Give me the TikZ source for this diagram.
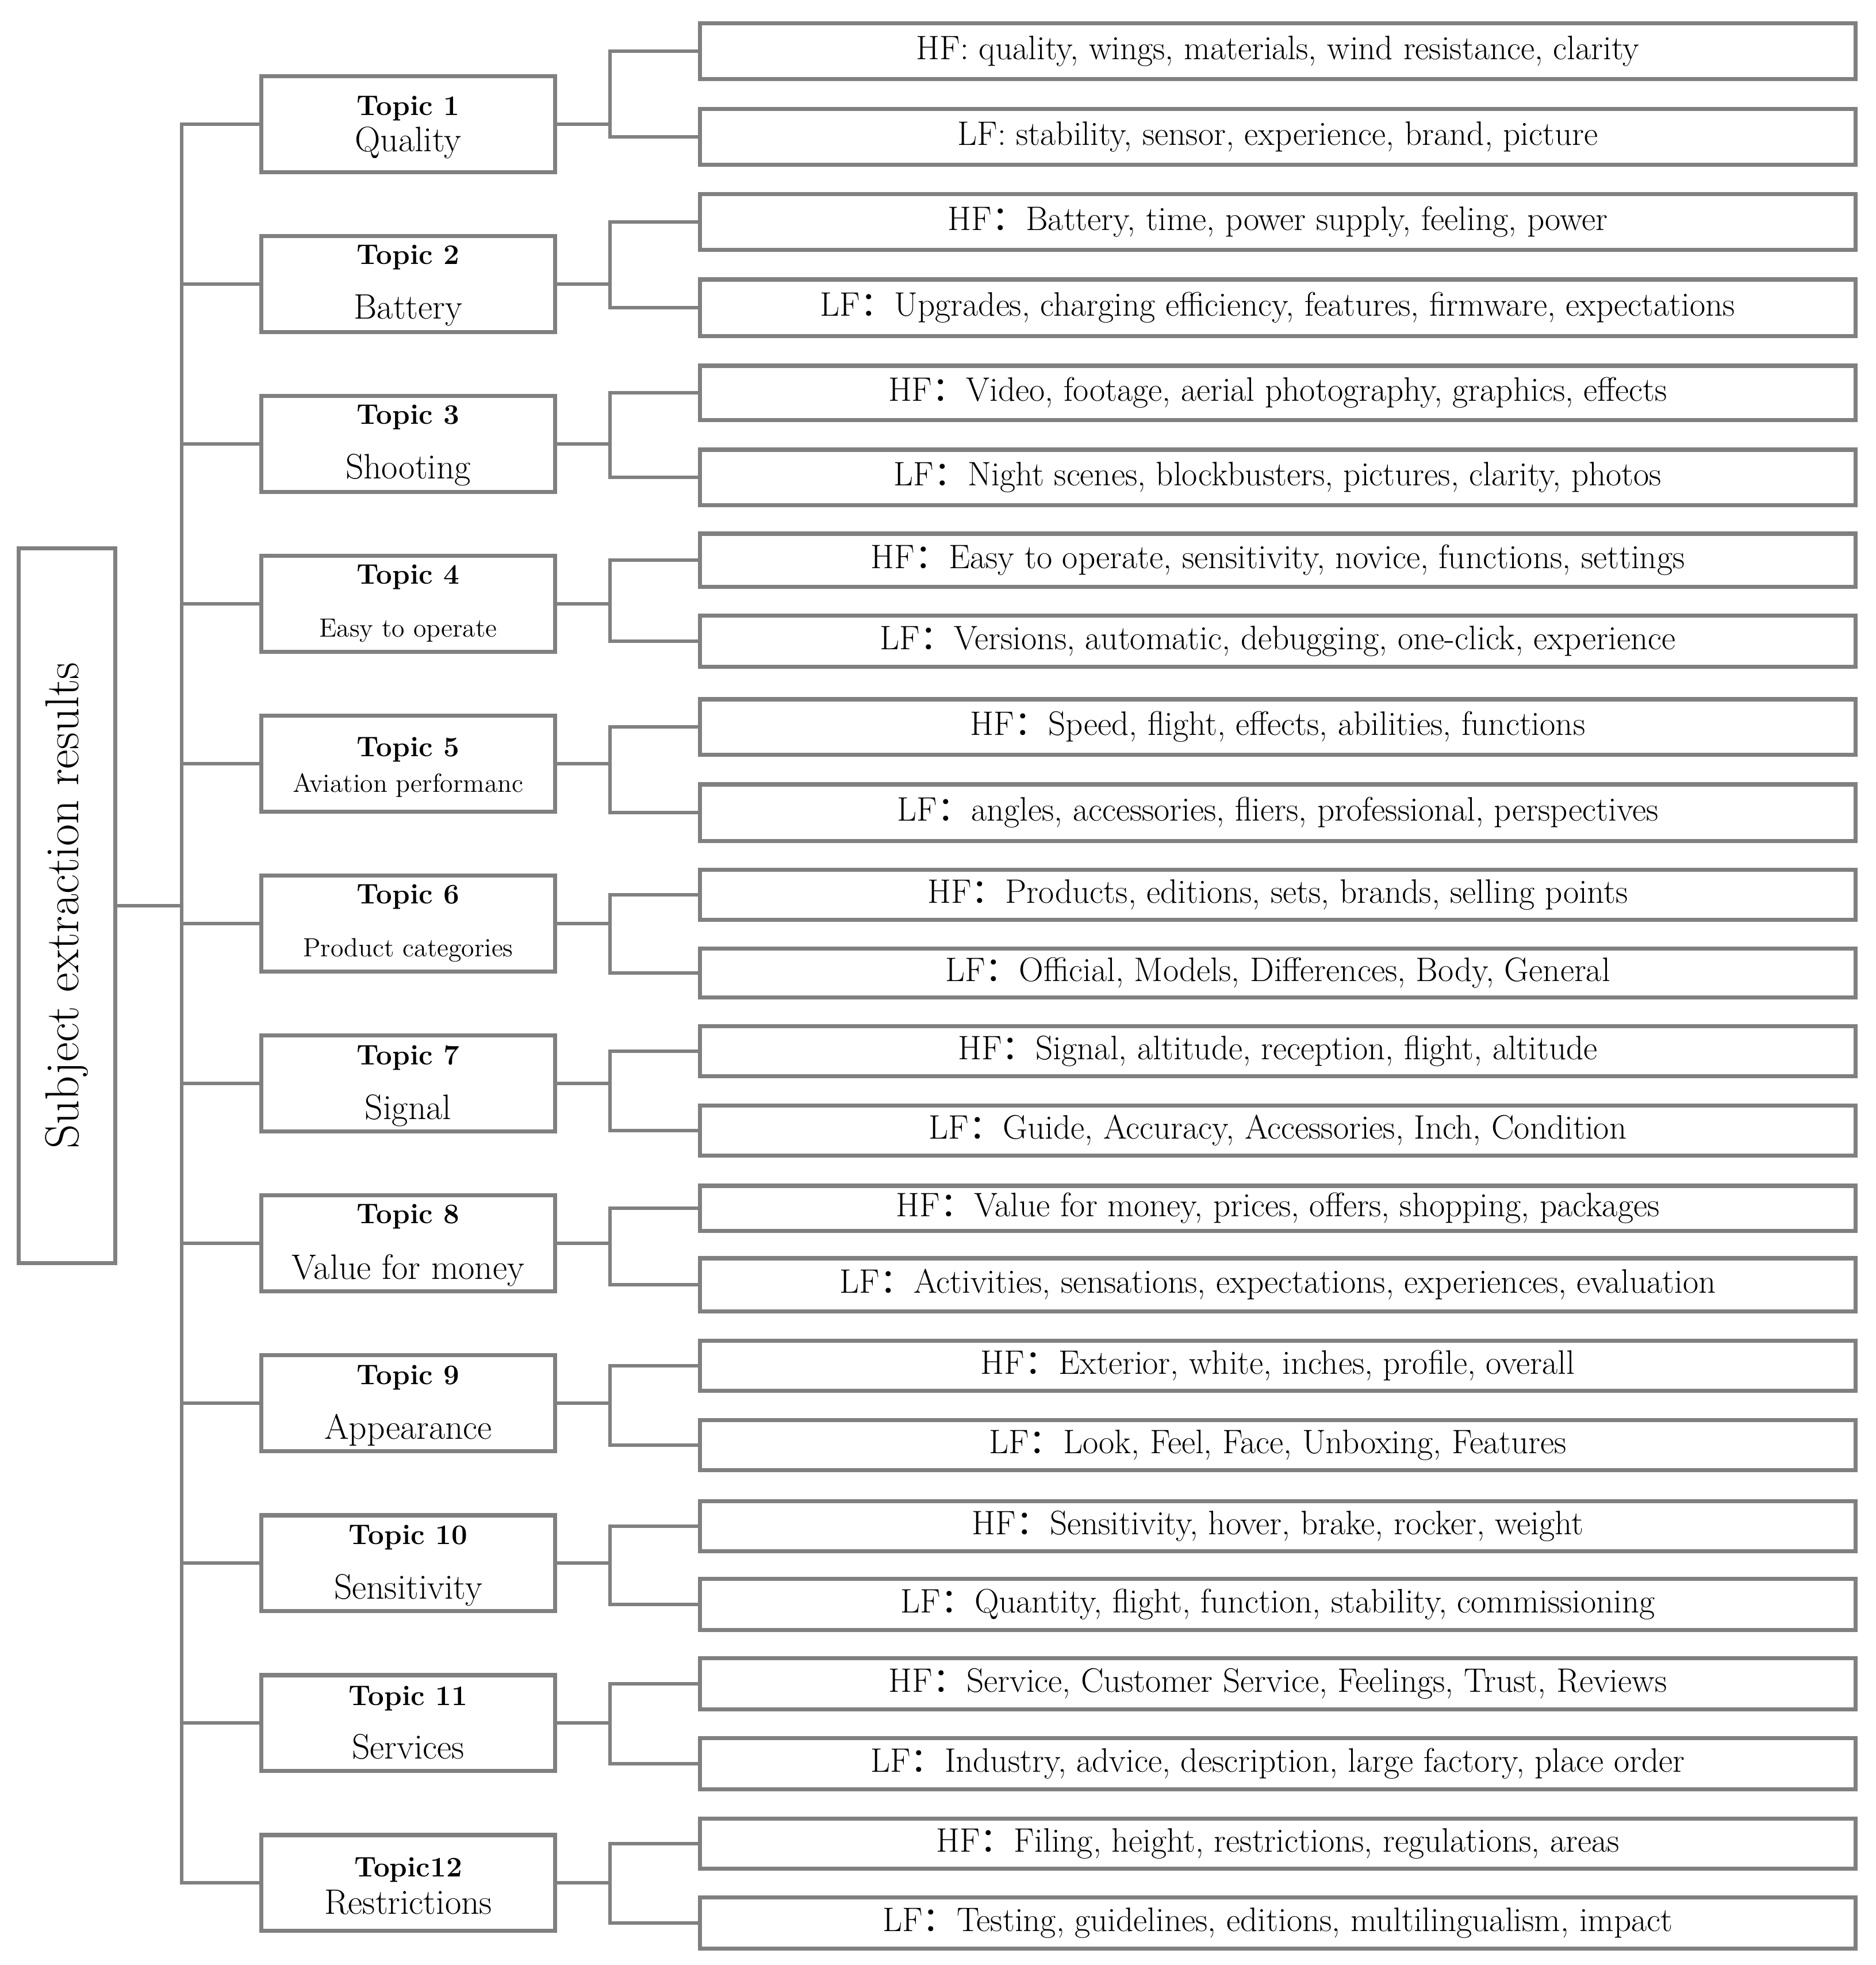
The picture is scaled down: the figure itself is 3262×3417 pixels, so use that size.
\documentclass[tikz,border=0pt]{standalone}
\usepackage{fontspec}
\newfontfamily\cjk{Noto Sans CJK SC}
\definecolor{lineg}{RGB}{128,128,128}
\newcommand{\fc}{{\cjk ：}}
\begin{document}
\begin{tikzpicture}[x=0.01cm,y=-0.01cm,
  box/.style={draw=lineg, line width=2pt, fill=white, inner sep=0pt},
  conn/.style={draw=lineg, line width=1.9pt},
  leafbox/.style={box, minimum width=20.09cm, font=\fontsize{16.8}{19}\selectfont, text height=1.05em, text depth=0.25em},
  topicbox/.style={box, minimum width=5.10cm, minimum height=1.66cm},
  ttitle/.style={font=\fontsize{14}{17}\selectfont\bfseries, anchor=base, inner sep=0pt},
  tsub/.style={font=\fontsize{17.5}{20}\selectfont, anchor=base, inner sep=0pt},
  tsubsmall/.style={font=\fontsize{13}{15}\selectfont, anchor=base, inner sep=0pt},
]
\useasboundingbox (0,0) rectangle (3262,3417);

% root
\node[box, minimum width=1.67cm, minimum height=12.43cm] (root) at (116.5,1575) {};
\node[rotate=90, font=\fontsize{23.5}{27}\selectfont] (rootlabel) at (root.center) {Subject extraction results};

% topic boxes
\foreach \i in {1,...,12} {
  \node[topicbox] (t\i) at (710,{216+278*(\i-1)}) {};
  \coordinate (tr\i) at (316,{216+278*(\i-1)});
  \coordinate (j\i) at (1061,{216+278*(\i-1)});
}
\coordinate (rj) at (316,1575);

\node[ttitle] (t1a) at (710,200) {Topic 1};
\node[tsub] (t1b) at (710,263) {Quality};
\node[ttitle] (t2a) at (710,459) {Topic 2};
\node[tsub] (t2b) at (710,554) {Battery};
\node[ttitle] (t3a) at (710,737) {Topic 3};
\node[tsub] (t3b) at (710,832) {Shooting};
\node[ttitle] (t4a) at (710,1015) {Topic 4};
\node[tsubsmall] (t4b) at (710,1107) {Easy to operate};
\node[ttitle] (t5a) at (710,1315) {Topic 5};
\node[tsubsmall] (t5b) at (710,1377) {Aviation performanc};
\node[ttitle] (t6a) at (710,1571) {Topic 6};
\node[tsubsmall] (t6b) at (710,1663) {Product categories};
\node[ttitle] (t7a) at (710,1851) {Topic 7};
\node[tsub] (t7b) at (710,1946) {Signal};
\node[ttitle] (t8a) at (710,2127) {Topic 8};
\node[tsub] (t8b) at (710,2224) {Value for money};
\node[ttitle] (t9a) at (710,2407) {Topic 9};
\node[tsub] (t9b) at (710,2502) {Appearance};
\node[ttitle] (t10a) at (710,2685) {Topic 10};
\node[tsub] (t10b) at (710,2780) {Sensitivity};
\node[ttitle] (t11a) at (710,2965) {Topic 11};
\node[tsub] (t11b) at (710,3058) {Services};
\node[ttitle] (t12a) at (710,3263) {Topic12};
\node[tsub] (t12b) at (710,3328) {Restrictions};

% leaves
\node[leafbox, minimum height=0.96cm] (hf1) at (2222.5,89) {HF: quality, wings, materials, wind resistance, clarity};
\node[leafbox, minimum height=0.96cm] (lf1) at (2222.5,238) {LF: stability, sensor, experience, brand, picture};
\node[leafbox, minimum height=0.96cm] (hf2) at (2222.5,386) {HF\fc Battery, time, power supply, feeling, power};
\node[leafbox, minimum height=0.98cm] (lf2) at (2222.5,535) {LF\fc Upgrades, charging efficiency, features, firmware, expectations};
\node[leafbox, minimum height=0.94cm] (hf3) at (2222.5,683) {HF\fc Video, footage, aerial photography, graphics, effects};
\node[leafbox, minimum height=0.96cm] (lf3) at (2222.5,830) {LF\fc Night scenes, blockbusters, pictures, clarity, photos};
\node[leafbox, minimum height=0.92cm] (hf4) at (2222.5,974) {HF\fc Easy to operate, sensitivity, novice, functions, settings};
\node[leafbox, minimum height=0.89cm] (lf4) at (2222.5,1115) {LF\fc Versions, automatic, debugging, one-click, experience};
\node[leafbox, minimum height=0.96cm] (hf5) at (2222.5,1264) {HF\fc Speed, flight, effects, abilities, functions};
\node[leafbox, minimum height=0.98cm] (lf5) at (2222.5,1413) {LF\fc angles, accessories, fliers, professional, perspectives};
\node[leafbox, minimum height=0.87cm] (hf6) at (2222.5,1556) {HF\fc Products, editions, sets, brands, selling points};
\node[leafbox, minimum height=0.85cm] (lf6) at (2222.5,1692) {LF\fc Official, Models, Differences, Body, General};
\node[leafbox, minimum height=0.87cm] (hf7) at (2222.5,1828) {HF\fc Signal, altitude, reception, flight, altitude};
\node[leafbox, minimum height=0.87cm] (lf7) at (2222.5,1966) {LF\fc Guide, Accuracy, Accessories, Inch, Condition};
\node[leafbox, minimum height=0.78cm] (hf8) at (2222.5,2101) {HF\fc Value for money, prices, offers, shopping, packages};
\node[leafbox, minimum height=0.92cm] (lf8) at (2222.5,2234) {LF\fc Activities, sensations, expectations, experiences, evaluation};
\node[leafbox, minimum height=0.87cm] (hf9) at (2222.5,2375) {HF\fc Exterior, white, inches, profile, overall};
\node[leafbox, minimum height=0.87cm] (lf9) at (2222.5,2513) {LF\fc Look, Feel, Face, Unboxing, Features};
\node[leafbox, minimum height=0.87cm] (hf10) at (2222.5,2654) {HF\fc Sensitivity, hover, brake, rocker, weight};
\node[leafbox, minimum height=0.89cm] (lf10) at (2222.5,2790) {LF\fc Quantity, flight, function, stability, commissioning};
\node[leafbox, minimum height=0.89cm] (hf11) at (2222.5,2928) {HF\fc Service, Customer Service, Feelings, Trust, Reviews};
\node[leafbox, minimum height=0.89cm] (lf11) at (2222.5,3067) {LF\fc Industry, advice, description, large factory, place order};
\node[leafbox, minimum height=0.87cm] (hf12) at (2222.5,3206) {HF\fc Filing, height, restrictions, regulations, areas};
\node[leafbox, minimum height=0.89cm] (lf12) at (2222.5,3344) {LF\fc Testing, guidelines, editions, multilingualism, impact};

% connectors
\draw[conn] (root.east) -- (rj);
\draw[conn] (t1.west) -- (tr1) -- (tr12) -- (t12.west);
\foreach \i in {2,...,11} { \draw[conn] (tr\i) -- (t\i.west); }
\foreach \i in {1,...,12} {
  \draw[conn] (t\i.east) -- (j\i);
  \draw[conn] (hf\i.west) -| (j\i) |- (lf\i.west);
}
\end{tikzpicture}
\end{document}
